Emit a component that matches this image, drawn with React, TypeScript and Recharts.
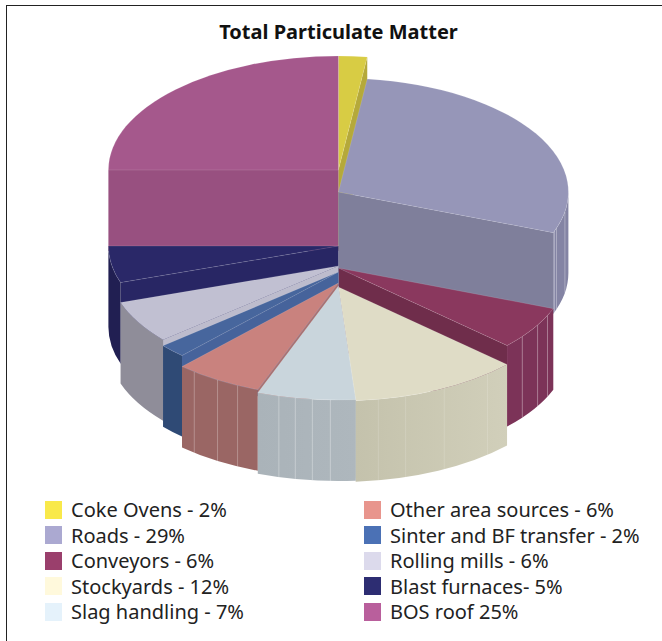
import React from 'react';
import { Pie, PieChart } from 'recharts';

const categories = [
  'Coke Ovens', 'Roads', 'Conveyors', 'Stockyards', 'Slag handling',
  'Other area sources', 'Sinter and BF transfer', 'Rolling mills', 'Blast furnaces', 'BOS roof',
];
// a little off the rounded legend figures
const shares = [2, 28.8, 6.1, 11.9, 6.9, 6.2, 1.9, 6, 5.2, 25];
const legendLabels = [
  'Coke Ovens - 2%', 'Roads - 29%', 'Conveyors - 6%', 'Stockyards - 12%', 'Slag handling - 7%',
  'Other area sources - 6%', 'Sinter and BF transfer - 2%', 'Rolling mills - 6%', 'Blast furnaces- 5%', 'BOS roof 25%',
];

const legendColors = ['#f9e94a', '#aba9d1', '#9a3f6c', '#fff9dc', '#e5f2fb', '#e8958d', '#4b71b5', '#dcdaec', '#2d2d72', '#b95f9c'];
const topColors = ['#d8cc44', '#9696b8', '#8a385e', '#dfdcc6', '#c9d5dc', '#c9827e', '#47669d', '#c1c0d2', '#2a2868', '#a5588c'];
const wallColors = ['#b5a93a', '#8484a4', '#7c3358', '#d1cfba', '#aeb7bd', '#9a6664', '#2f4a75', '#8f8d99', '#211f52', '#985080'];
const wallColorsFar = ['#b5a93a', '#8484a4', '#7c3358', '#c4c2ac', '#aab3b9', '#9a6664', '#2f4a75', '#8f8d99', '#211f52', '#985080'];
const cutColors = ['#b5a93a', '#7f7f9b', '#6f2d4b', '#c5c3ad', '#aeb7bd', '#a87070', '#46639b', '#bdbccd', '#282664', '#985080'];

// every wedge sits at its own height in the reference
const centerY = [170, 192, 268, 287, 286, 283, 272, 266, 246, 170];
const seamAngles = [
  [], [100, 108.5, 110], [114.6, 120, 126.9], [139.6, 152.6, 163, 170], [182, 186.5, 190.8, 195],
  [206, 211.7, 218.8], [], [], [], [],
];
const seamOpacity = [0, 0.4, 0.45, 0.2, 0.4, 0.35, 0, 0, 0, 0];
// back to front
const paintOrder = [0, 9, 1, 2, 3, 8, 7, 6, 5, 4];

const table = categories.map((name, i) => ({ name, value: shares[i] }));

const RX = 230;
const RY = 114;
const WALL = 81;

function pt(cx: number, cy: number, deg: number) {
  const a = (deg * Math.PI) / 180;
  return { x: cx + RX * Math.sin(a), y: cy - RY * Math.cos(a) };
}

function Wedge({ k, cx, cy, startAngle, endAngle }: any) {
  const a0 = 90 - startAngle;
  const a1 = 90 - endAngle;
  const p0 = pt(cx, cy, a0);
  const p1 = pt(cx, cy, a1);
  const large = a1 - a0 > 180 ? 1 : 0;

  const lo = Math.max(a0, 90);
  const hi = Math.min(a1, 270);

  // radial wall that faces the viewer
  const cutAt = a1 <= 180 ? p1 : a0 >= 180 ? p0 : null;
  const gradId = `wall-${k}`;

  return (
    <g>
      <defs>
        <linearGradient id={gradId} x1="1" y1="0" x2="0" y2="0">
          <stop offset="0" stopColor={wallColors[k]} />
          <stop offset="1" stopColor={wallColorsFar[k]} />
        </linearGradient>
      </defs>
      {cutAt && (
        <path
          d={`M${cx},${cy} L${cutAt.x},${cutAt.y} L${cutAt.x},${cutAt.y + WALL} L${cx},${cy + WALL} Z`}
          fill={cutColors[k]}
        />
      )}
      {hi > lo && (() => {
        const w0 = pt(cx, cy, lo);
        const w1 = pt(cx, cy, hi);
        return (
          <path
            d={`M${w0.x},${w0.y} A${RX},${RY} 0 0 1 ${w1.x},${w1.y} L${w1.x},${w1.y + WALL} A${RX},${RY} 0 0 0 ${w0.x},${w0.y + WALL} Z`}
            fill={`url(#${gradId})`}
          />
        );
      })()}
      {seamAngles[k].map((s) => {
        const p = pt(cx, cy, s);
        return <line key={s} x1={p.x} y1={p.y} x2={p.x} y2={p.y + WALL} stroke="#fff" strokeOpacity={seamOpacity[k]} strokeWidth={0.8} />;
      })}
      <path
        d={`M${cx},${cy} L${p0.x},${p0.y} A${RX},${RY} 0 ${large} 1 ${p1.x},${p1.y} Z`}
        fill={topColors[k]}
        stroke="#fff"
        strokeOpacity={0.2}
        strokeWidth={0.6}
      />
    </g>
  );
}

function LegendRow({ i }: { i: number }) {
  return (
    <div style={{ display: 'flex', alignItems: 'center', height: 25.5 }}>
      <div style={{ width: 17, height: 18, background: legendColors[i], marginRight: 9, flex: 'none' }} />
      <span style={{ whiteSpace: 'nowrap' }}>{legendLabels[i]}</span>
    </div>
  );
}

export default function App() {
  return (
    <div style={{ position: 'absolute', left: 0, top: 0, width: 662, height: 641, overflow: 'hidden', background: '#fff', fontFamily: '"Noto Sans", sans-serif' }}>
      <div style={{ position: 'absolute', left: 6, top: 5, width: 700, height: 700, borderLeft: '1.5px solid #222', borderTop: '1.5px solid #222' }} />
      <div style={{ position: 'absolute', left: 0, width: 677, top: 18, textAlign: 'center', fontWeight: 700, fontSize: 20, lineHeight: '27px', color: '#111' }}>
        Total Particulate Matter
      </div>
      <PieChart width={662} height={641} style={{ position: 'absolute', left: 0, top: 0 }} margin={{ top: 0, right: 0, bottom: 0, left: 0 }}>
        {paintOrder.map((k) => (
          <Pie
            key={k}
            data={table}
            dataKey="value"
            nameKey="name"
            cx={338.4}
            cy={centerY[k]}
            outerRadius={RX}
            startAngle={90}
            endAngle={-270}
            stroke="none"
            isAnimationActive={false}
            shape={(props: any) => (props.name === categories[k] ? <Wedge {...props} k={k} /> : <g />)}
          />
        ))}
      </PieChart>
      <div style={{ position: 'absolute', left: 45, top: 497, fontSize: 20, color: '#222' }}>
        {[0, 1, 2, 3, 4].map((i) => <LegendRow key={i} i={i} />)}
      </div>
      <div style={{ position: 'absolute', left: 364, top: 497, fontSize: 20, color: '#222' }}>
        {[5, 6, 7, 8, 9].map((i) => <LegendRow key={i} i={i} />)}
      </div>
    </div>
  );
}
